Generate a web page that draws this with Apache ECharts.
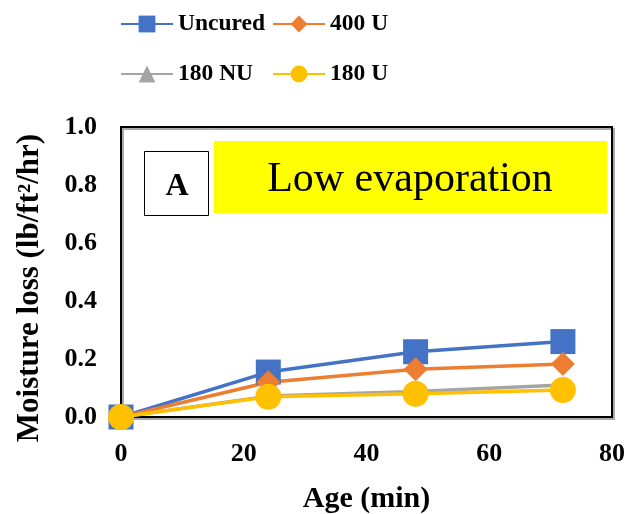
<!DOCTYPE html>
<html><head><meta charset="utf-8">
<script src="https://cdn.jsdelivr.net/npm/echarts@6/dist/echarts.min.js"></script>
<style>html,body{margin:0;padding:0;background:#fff}#c{width:631px;height:514px}</style>
</head><body><div id="c"></div>
<script>
const ages = [0, 24, 48, 72];
const uncured = [0, 0.155, 0.225, 0.26];
const u400 = [0, 0.12, 0.165, 0.183];
const nu180 = [0, 0.072, 0.088, 0.11];
const u180 = [0, 0.07, 0.08, 0.093];
const seriesNames = ['Uncured', '400 U', '180 NU', '180 U'];
const xTicks = [0, 20, 40, 60, 80];
const yTicks = [0, 0.2, 0.4, 0.6, 0.8, 1.0];

const font = '"Liberation Serif", "Times New Roman", serif';
const pts = v => ages.map((a, i) => [a, v[i]]);
const legendText = {fontFamily: font, fontWeight: 'bold', fontSize: 23.5, color: '#000'};
function mkLegend(name, left, top) {
  return {data: [name], left: left, top: top, itemWidth: 52, itemHeight: 21, itemGap: 0,
    textStyle: legendText, padding: 0, selectedMode: false};
}
const chart = echarts.init(document.getElementById('c'));
chart.setOption({
  animation: false,
  backgroundColor: '#fff',
  legend: [mkLegend('Uncured', 120, 12), mkLegend('400 U', 272, 12), mkLegend('180 NU', 120, 62), mkLegend('180 U', 272, 62)],
  grid: {left: 121, right: 19, top: 127, bottom: 97, show: true, borderColor: '#000', borderWidth: 2,
    outerBoundsMode: 'none', containLabel: false,
    backgroundColor: '#fff', shadowColor: '#aaa', shadowOffsetX: 2, shadowOffsetY: 2, shadowBlur: 0},
  xAxis: {type: 'value', min: xTicks[0], max: xTicks[xTicks.length - 1], interval: 20,
    name: 'Age (min)', nameLocation: 'middle', nameGap: 67,
    nameTextStyle: {fontFamily: font, fontWeight: 'bold', fontSize: 30, color: '#000'},
    axisLine: {show: false}, axisTick: {show: false}, splitLine: {show: false},
    axisLabel: {margin: 24, fontFamily: font, fontWeight: 'bold', fontSize: 26, color: '#000'}},
  yAxis: {type: 'value', min: yTicks[0], max: yTicks[yTicks.length - 1], interval: 0.2,
    name: 'Moisture loss (lb/ft²/hr)', nameLocation: 'middle', nameGap: 76,
    nameTextStyle: {fontFamily: font, fontWeight: 'bold', fontSize: 31, color: '#000', padding: [0, 32, 0, 0]},
    axisLine: {show: false}, axisTick: {show: false}, splitLine: {show: false},
    axisLabel: {margin: 24, fontFamily: font, fontWeight: 'bold', fontSize: 26, color: '#000',
      formatter: v => v.toFixed(1)}},
  graphic: [
    {type: 'rect', shape: {x: 214, y: 141, width: 393, height: 72}, style: {fill: '#ffff00'}, z: 10},
    {type: 'text', x: 410, y: 180, style: {text: 'Low evaporation', font: '42px ' + font, fill: '#000', align: 'center', verticalAlign: 'middle'}, z: 11},
    {type: 'rect', shape: {x: 144.5, y: 151.5, width: 64, height: 64}, style: {fill: '#fff', stroke: '#000', lineWidth: 1}, z: 10},
    {type: 'text', x: 177, y: 187, style: {text: 'A', font: 'bold 32px ' + font, fill: '#000', align: 'center', verticalAlign: 'middle'}, z: 11}
  ],
  series: [
    {name: seriesNames[0], type: 'line', data: pts(uncured), symbol: 'rect', symbolSize: 25, clip: false,
      itemStyle: {color: '#4472C4'}, lineStyle: {color: '#4472C4', width: 3.5}},
    {name: seriesNames[1], type: 'line', data: pts(u400), symbol: 'diamond', symbolSize: 24, clip: false,
      itemStyle: {color: '#ED7D31'}, lineStyle: {color: '#ED7D31', width: 3.5}},
    {name: seriesNames[2], type: 'line', data: pts(nu180), symbol: 'triangle', symbolSize: 18, clip: false,
      itemStyle: {color: '#A5A5A5'}, lineStyle: {color: '#A5A5A5', width: 3.5}},
    {name: seriesNames[3], type: 'line', data: pts(u180), symbol: 'circle', symbolSize: 26, clip: false,
      itemStyle: {color: '#FFC000'}, lineStyle: {color: '#FFC000', width: 3.5}}
  ]
});
</script></body></html>
